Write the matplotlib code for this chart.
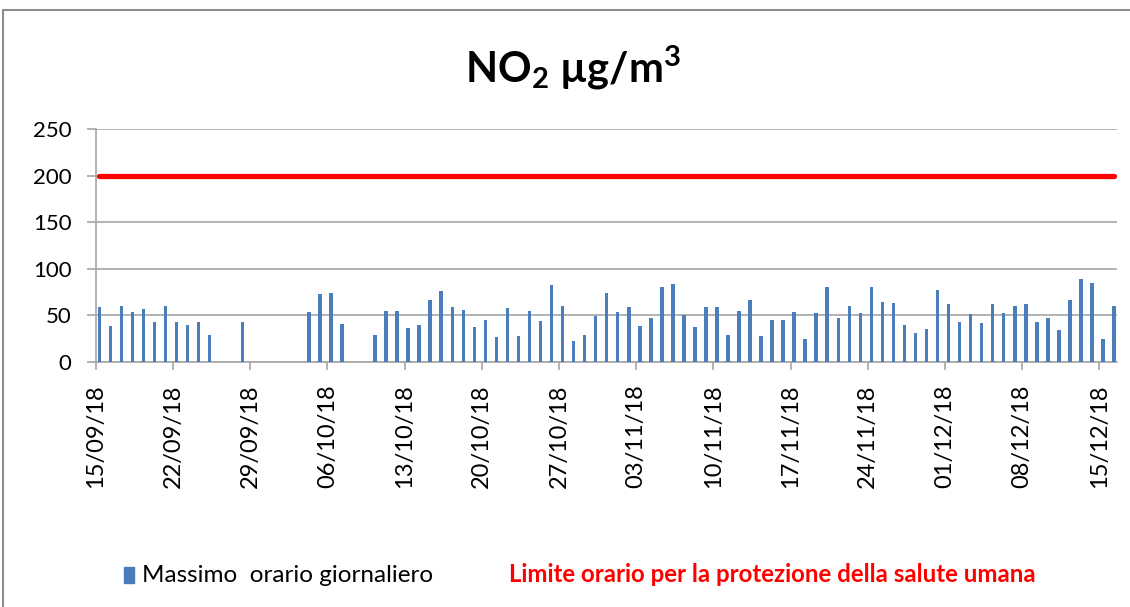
import datetime as dt

import matplotlib
matplotlib.use("Agg")
import matplotlib.pyplot as plt
import matplotlib.dates as mdates
from matplotlib.patches import Rectangle
import numpy as np

# ── Data (daily max hourly NO2, µg/m3) ──────────────────────────────────────
start_date = "2018-09-15"
n_days = 93
no2_max = [
    59, 39, 60, 54, 57, 43, 60, 43, 40, 43, 29, None, None, 43, None, None,      # Sep 15-30
    None, None, None, 54, 73, 74, 41, None, None, 29, 55, 55, 37, 40, 66, 76,    # Oct 1-16
    59, 56, 38, 45, 27, 58, 28, 55, 44, 83, 60, 23, 29, 49, 74,                  # Oct 17-31
    54, 59, 39, 47, 81, 84, 50, 38, 59, 59, 29, 55, 66, 28, 45,                  # Nov 1-15
    45, 54, 25, 53, 81, 47, 60, 53, 80, 64, 63, 40, 31, 35, 77,                  # Nov 16-30
    62, 43, 52, 42, 62, 53, 60, 62, 43, 47, 34, 66, 89, 85, 25, 60,              # Dec 1-16
]
limit_value = 200
tick_step_days = 7
y_ticks = [0, 50, 100, 150, 200, 250]

title = "NO$_2$ µg/m$^3$"
bar_label = "Massimo  orario giornaliero"
limit_label = "Limite orario per la protezione della salute umana"

# ── Styling ─────────────────────────────────────────────────────────────────
BAR_COLOR = "#4a7ebb"
GRID_COLOR = "#a6a6a6"
W, H = 1130, 607

plt.rcParams["font.family"] = ["Lato", "DejaVu Sans"]
plt.rcParams["mathtext.fontset"] = "custom"
plt.rcParams["mathtext.rm"] = "Lato:bold"
plt.rcParams["mathtext.default"] = "rm"

dates = [dt.datetime.fromisoformat(start_date) + dt.timedelta(days=i) for i in range(n_days)]
xnum = mdates.date2num(dates)
vals = np.array([np.nan if v is None else v for v in no2_max], dtype=float)
offset = 0.33  # bars sit slightly right of the date tick, as in the original

fig = plt.figure(figsize=(W / 100, H / 100), dpi=100)
ax = fig.add_axes([95.7 / W, (H - 362) / H, (1117 - 95.7) / W, (362 - 129) / H])

ax.bar(xnum + offset, np.nan_to_num(vals), width=0.32, color=BAR_COLOR, zorder=3)
ax.plot(xnum + offset, [limit_value] * n_days, color="#ff0000", lw=3.8,
        solid_capstyle="round", zorder=4)

ax.set_xlim(xnum[0], xnum[0] + 92.6)
ax.set_ylim(0, 250)
ax.set_yticks(y_ticks)
ax.yaxis.grid(True, color=GRID_COLOR, lw=1.2, zorder=0)
ax.set_axisbelow(True)

xt = xnum[::tick_step_days]
ax.set_xticks(xt)
ax.set_xticklabels([mdates.num2date(x).strftime("%d/%m/%y") for x in xt],
                   rotation=90, fontsize=17)
ax.tick_params(axis="x", length=6, width=1.2, color=GRID_COLOR, pad=10)
ax.tick_params(axis="y", length=6.5, width=1.2, color=GRID_COLOR, pad=11, labelsize=16)

for s in ("top", "right"):
    ax.spines[s].set_visible(False)
for s in ("left", "bottom"):
    ax.spines[s].set_color(GRID_COLOR)
    ax.spines[s].set_linewidth(1.2)

# title
fig.text(573 / W, 1 - 68 / H, title, ha="center", va="center", fontsize=30,
         fontweight="bold")

# legend
fig.patches.append(Rectangle((124 / W, 1 - 583 / H), 10 / W, 16 / H,
                             transform=fig.transFigure, color=BAR_COLOR))
fig.text(142 / W, 1 - 575 / H, bar_label, ha="left", va="center", fontsize=17.5)
fig.text(509 / W, 1 - 575 / H, limit_label, ha="left", va="center", fontsize=17.3,
         fontweight="bold", color="#ff0000")

# chart border
fig.patches.append(Rectangle((3 / W, -0.1), 1.2, 1 - 10 / H + 0.1,
                             transform=fig.transFigure, fill=False,
                             edgecolor="#8c8c8c", lw=1.5))

fig.savefig("out.png", dpi=100)
